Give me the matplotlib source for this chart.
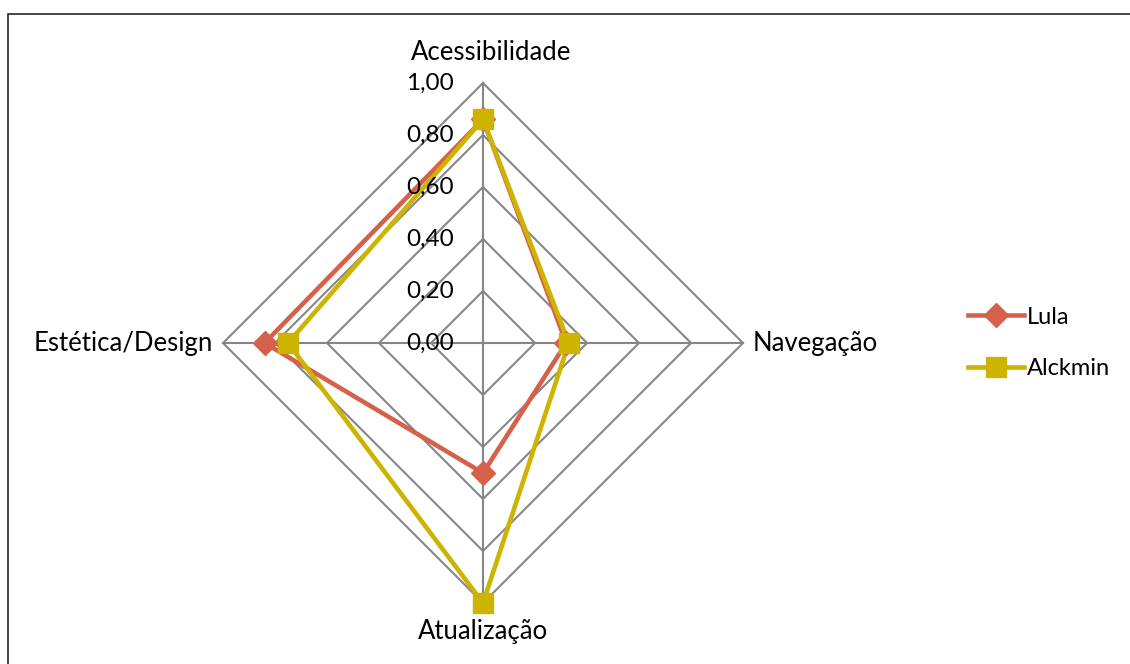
import numpy as np
import matplotlib
matplotlib.use("Agg")
import matplotlib.pyplot as plt
from matplotlib.lines import Line2D
from matplotlib.patches import Rectangle

categories = ["Acessibilidade", "Navegação", "Atualização", "Estética/Design"]
lula = [0.86, 0.32, 0.50, 0.84]
alckmin = [0.86, 0.33, 1.00, 0.75]
ticks = [0.0, 0.2, 0.4, 0.6, 0.8, 1.0]
tick_labels = ["0,00", "0,20", "0,40", "0,60", "0,80", "1,00"]

LULA_C = "#D6614A"
ALCK_C = "#CCB400"
GRID_C = "#868686"
FONT = "Lato"
CAT_FS = 18.5
TICK_FS = 17.5

W, H = 1130, 664
fig = plt.figure(figsize=(W / 100, H / 100), dpi=100)

# axes placement: center at (483, 343) px, radius 260 px
cx, cy, R = 483, 343, 260
lim = 1.1
half = R * lim
ax = fig.add_axes([(cx - half) / W, (H - cy - half) / H, 2 * half / W, 2 * half / H])
ax.set_xlim(-lim, lim)
ax.set_ylim(-lim, lim)
ax.set_aspect("equal")
ax.axis("off")

# angles: top, right, bottom, left
angles = np.array([90, 0, -90, 180]) * np.pi / 180
dx, dy = np.cos(angles), np.sin(angles)
dx[np.abs(dx) < 1e-9] = 0
dy[np.abs(dy) < 1e-9] = 0

# grid polygons
for t in ticks[1:]:
    xs = list(dx * t) + [dx[0] * t]
    ys = list(dy * t) + [dy[0] * t]
    ax.plot(xs, ys, color=GRID_C, lw=1.5, zorder=1, solid_joinstyle="miter")
# spokes
for i in range(4):
    ax.plot([0, dx[i]], [0, dy[i]], color=GRID_C, lw=1.5, zorder=1)

def series(vals, color, marker, ms):
    v = np.array(vals)
    xs = list(dx * v) + [dx[0] * v[0]]
    ys = list(dy * v) + [dy[0] * v[0]]
    ax.plot(xs, ys, color=color, lw=3.3, zorder=3, solid_joinstyle="miter")
    ax.plot(dx * v, dy * v, ls="none", marker=marker, ms=ms, color=color,
            markeredgecolor=color, zorder=4)

series(lula, LULA_C, "D", 12.5)
series(alckmin, ALCK_C, "s", 14)

# tick labels
for t, lab in zip(ticks, tick_labels):
    ax.text(-29 / R, t, lab, ha="right", va="center", fontsize=TICK_FS,
            family=FONT, color="#000000", zorder=5)

# category labels
ax.text(8 / R, 1 + 30 / R, categories[0], ha="center", va="center", fontsize=CAT_FS, family=FONT)
ax.text(1 + 10 / R, 0, categories[1], ha="left", va="center", fontsize=CAT_FS, family=FONT)
ax.text(0, -1 - 28 / R, categories[2], ha="center", va="center", fontsize=CAT_FS, family=FONT)
ax.text(-1 - 10 / R, 0, categories[3], ha="right", va="center", fontsize=CAT_FS, family=FONT)

# legend
handles = [
    Line2D([], [], color=LULA_C, lw=3.3, marker="D", ms=12.5),
    Line2D([], [], color=ALCK_C, lw=3.3, marker="s", ms=14),
]
leg = fig.legend(handles, ["Lula", "Alckmin"], loc="center left",
                 bbox_to_anchor=(956 / W, 1 - 343 / H), frameon=False,
                 prop={"family": FONT, "size": 17}, handlelength=2.4,
                 handletextpad=0.1, labelspacing=1.3, borderpad=0)

# outer frame (only top and left visible)
fig.patches.append(Rectangle((8 / W, -0.1), 1.2, 1 - 14 / H + 0.1,
                             transform=fig.transFigure, fill=False,
                             edgecolor="#262626", lw=1.2))

fig.savefig("out.png", dpi=100, facecolor="white")
